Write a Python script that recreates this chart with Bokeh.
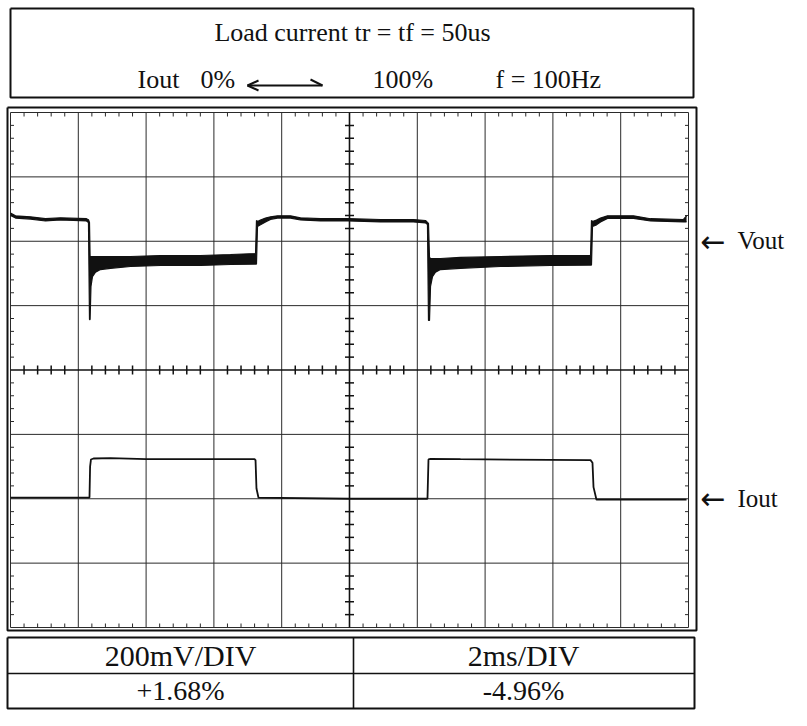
import numpy as np
from bokeh.plotting import figure
from bokeh.models import Range1d
from bokeh.core.properties import value
from bokeh.embed import file_html
from bokeh.resources import INLINE

# ---------------- data (in scope divisions) ----------------
# Vout trace: time (div) with upper / lower envelope (div); the low state is a dense ripple band
vout_t = [0.000, 0.074, 0.295, 0.516, 0.737, 1.121, 1.150, 1.165, 1.174, 1.187, 1.209, 1.254,
          1.327, 1.475, 1.770, 2.212, 2.802, 3.245, 3.614, 3.628, 3.643, 3.687, 3.761, 3.835,
          3.938, 4.130, 4.277, 4.572, 4.985, 5.457, 5.944, 6.121, 6.150, 6.165, 6.180, 6.195,
          6.224, 6.268, 6.342, 6.637, 7.227, 7.965, 8.555, 8.569, 8.584, 8.643, 8.702, 8.805,
          9.189, 9.440, 9.926, 9.971]
vout_top = [6.440, 6.395, 6.380, 6.350, 6.365, 6.350, 6.335, 6.291, 5.763, 5.763, 5.763, 5.763,
            5.763, 5.763, 5.763, 5.779, 5.779, 5.794, 5.810, 6.322, 6.307, 6.330, 6.360, 6.380,
            6.395, 6.395, 6.365, 6.350, 6.350, 6.338, 6.338, 6.322, 6.291, 6.276, 5.748, 5.732,
            5.732, 5.732, 5.732, 5.748, 5.763, 5.779, 5.779, 6.322, 6.307, 6.330, 6.360, 6.395,
            6.395, 6.350, 6.338, 6.395]
vout_bot = [6.400, 6.360, 6.345, 6.315, 6.330, 6.315, 6.290, 4.784, 4.784, 5.300, 5.450, 5.520,
            5.560, 5.580, 5.608, 5.623, 5.623, 5.639, 5.645, 5.645, 6.230, 6.255, 6.300, 6.340,
            6.360, 6.360, 6.330, 6.315, 6.315, 6.300, 6.300, 6.285, 6.260, 4.769, 4.769, 5.300,
            5.450, 5.520, 5.560, 5.580, 5.608, 5.623, 5.630, 5.630, 6.230, 6.255, 6.300, 6.355,
            6.355, 6.315, 6.300, 6.300]

# Iout trace: time (div), level (div)
iout_t = [0.000, 1.165, 1.174, 1.187, 1.224, 1.475, 2.000, 3.600, 3.614, 3.628, 3.657, 4.985,
          6.150, 6.165, 6.195, 6.637, 8.555, 8.584, 8.599, 8.643, 9.971]
iout_v = [2.019, 2.019, 2.500, 2.610, 2.625, 2.630, 2.614, 2.614, 2.600, 2.160, 2.019, 2.000,
          2.000, 2.610, 2.618, 2.614, 2.600, 2.560, 2.180, 1.985, 1.985]

header_line1 = "Load current tr = tf = 50us"
header_line2 = ["Iout", "0%", "100%", "f = 100Hz"]
trace_names = ["Vout", "Iout"]
trace_marks = [6, 2]                 # graticule line each trace label points at
scale_labels = ["200mV/DIV", "2ms/DIV"]
error_labels = ["+1.68%", "-4.96%"]
n_xdiv, n_ydiv, minor_per_div = 10, 8, 5

# ---------------- layout helpers (reference pixels -> divisions) ----------------
PX_X0, PX_PER_X = 10.0, 67.8
PX_Y0, PX_PER_Y = 627.0, 64.375


def X(px):
    return (px - PX_X0) / PX_PER_X


def Y(py):
    return (PX_Y0 - py) / PX_PER_Y


W, H = 791, 710
p = figure(width=W, height=H, x_range=Range1d(X(0), X(W)), y_range=Range1d(Y(H), Y(0)),
           output_backend="svg", toolbar_location=None, min_border=0,
           x_axis_location=None, y_axis_location=None)
p.min_border_left = p.min_border_right = p.min_border_top = p.min_border_bottom = 0
p.grid.visible = False
p.outline_line_color = None
p.background_fill_color = "white"
p.border_fill_color = "white"

INK = "#111111"
GRID = "#2a2a2a"
FONT = value("Liberation Serif")

# ---------------- graticule ----------------
vx = [i for i in range(n_xdiv + 1) if i != n_xdiv // 2]
p.segment(x0=vx, y0=[0] * len(vx), x1=vx, y1=[n_ydiv] * len(vx), line_color=GRID, line_width=1)
hy = [j for j in range(n_ydiv + 1) if j != n_ydiv // 2]
p.segment(x0=[0] * len(hy), y0=hy, x1=[n_xdiv] * len(hy), y1=hy, line_color=GRID, line_width=1)
# centre axes
p.segment(x0=[n_xdiv / 2, 0], y0=[0, n_ydiv / 2], x1=[n_xdiv / 2, n_xdiv], y1=[n_ydiv, n_ydiv / 2],
          line_color=INK, line_width=1.6)

step = 1.0 / minor_per_div
tx = np.round(np.arange(0, n_xdiv + 1e-9, step), 4)
tx = tx[np.abs(tx - np.round(tx)) > 1e-6]
ty = np.round(np.arange(0, n_ydiv + 1e-9, step), 4)
ty = ty[np.abs(ty - np.round(ty)) > 1e-6]
cy, cx = n_ydiv / 2, n_xdiv / 2
hx_len = 4.5 / PX_PER_X
hy_len = 4.5 / PX_PER_Y
# ticks on centre axes
p.segment(x0=tx, y0=cy - hy_len, x1=tx, y1=cy + hy_len, line_color=INK, line_width=1.5)
p.segment(x0=cx - hx_len, y0=ty, x1=cx + hx_len, y1=ty, line_color=INK, line_width=1.5)
# ticks on the edges
e_y = 4.0 / PX_PER_Y
e_x = 3.5 / PX_PER_X
p.segment(x0=tx, y0=n_ydiv, x1=tx, y1=n_ydiv - e_y, line_color=GRID, line_width=1)
p.segment(x0=tx, y0=0, x1=tx, y1=e_y, line_color=GRID, line_width=1)
p.segment(x0=0, y0=ty, x1=e_x, y1=ty, line_color=GRID, line_width=1)
p.segment(x0=n_xdiv, y0=ty, x1=n_xdiv - e_x, y1=ty, line_color=GRID, line_width=1)

# ---------------- traces ----------------
p.varea(x=vout_t, y1=vout_bot, y2=vout_top, fill_color=INK)
p.line(vout_t, vout_top, line_color=INK, line_width=1.2)
p.line(vout_t, vout_bot, line_color=INK, line_width=1.2)
p.line(iout_t, iout_v, line_color=INK, line_width=1.8)

# ---------------- frames ----------------
def rect(x0, y0, x1, y1, w):
    p.multi_line(xs=[[X(x0), X(x1), X(x1), X(x0), X(x0)]],
                 ys=[[Y(y0), Y(y0), Y(y1), Y(y1), Y(y0)]], line_color=INK, line_width=w)

rect(10, 8, 693, 97, 2)          # header box
rect(7, 107, 696, 630, 2)        # scope frame
rect(7, 637, 694, 708, 2)        # table
p.segment(x0=[X(7), X(353)], y0=[Y(673), Y(637)], x1=[X(694), X(353)], y1=[Y(673), Y(708)],
          line_color=INK, line_width=1.6)

# ---------------- texts ----------------
p.text(x=[X(352)], y=[Y(32)], text=[header_line1], text_font=FONT, text_font_size="26px",
       text_align="center", text_baseline="middle", text_color=INK)
p.text(x=[X(137), X(200), X(372), X(495)], y=[Y(78.5)] * 4, text=header_line2, text_font=FONT,
       text_font_size="26px", text_align="left", text_baseline="middle", text_color=INK)
# double arrow between 0% and 100%
ax0, ax1, ay = 247, 322, 85
p.segment(x0=[X(ax0), X(ax0), X(ax0), X(ax1)], y0=[Y(ay), Y(ay), Y(ay), Y(ay)],
          x1=[X(ax1), X(ax0 + 11), X(ax0 + 11), X(ax1 - 12)], y1=[Y(ay), Y(ay - 5), Y(ay + 5), Y(ay - 6)],
          line_color=INK, line_width=2)

# trace labels on the right
p.text(x=[X(700)] * 2, y=trace_marks, text=["\u2190"] * 2, text_font=value("DejaVu Sans"),
       text_font_size="30px", text_align="left", text_baseline="middle", text_color=INK)
p.text(x=[X(737)] * 2, y=[m + 0.5 / PX_PER_Y for m in trace_marks], text=trace_names, text_font=FONT,
       text_font_size="25px", text_align="left", text_baseline="middle", text_color=INK)

# table texts
p.text(x=[X(180), X(523)], y=[Y(655)] * 2, text=scale_labels, text_font=FONT, text_font_size="30px",
       text_align="center", text_baseline="middle", text_color=INK)
p.text(x=[X(180), X(523)], y=[Y(690)] * 2, text=error_labels, text_font=FONT, text_font_size="28px",
       text_align="center", text_baseline="middle", text_color=INK)

open("out.html", "w").write(file_html(p, INLINE))
